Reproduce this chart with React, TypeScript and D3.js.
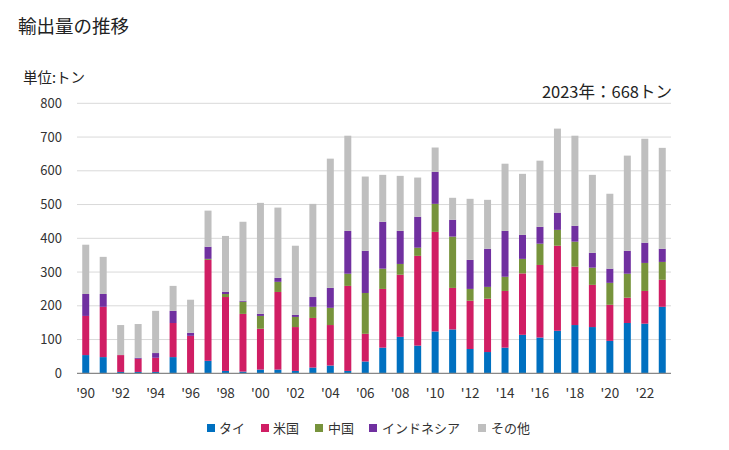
import React from "react";
import * as d3 from "d3";

const years = d3.range(1990, 2024).map((y) => y);
const seriesNames = ["タイ", "米国", "中国", "インドネシア", "その他"];
const colors = ["#0070C0", "#D01E64", "#77933C", "#7030A0", "#BFBFBF"];

const thai = [54, 48, 4, 4, 4, 48, 0, 37, 7, 5, 11, 11, 7, 17, 23, 7, 35, 76, 108, 82, 124, 130, 72, 63, 76, 114, 106, 126, 143, 137, 96, 149, 147, 197];
const usa = [116, 149, 50, 39, 42, 101, 111, 299, 219, 171, 121, 230, 130, 147, 120, 252, 82, 174, 184, 266, 295, 123, 143, 158, 168, 182, 215, 252, 173, 125, 107, 75, 97, 80];
const china = [0, 0, 0, 0, 0, 0, 0, 3, 9, 36, 38, 30, 30, 33, 51, 36, 121, 60, 32, 24, 83, 152, 35, 35, 42, 43, 63, 47, 74, 51, 65, 71, 83, 53];
const indonesia = [65, 38, 0, 3, 14, 36, 9, 36, 6, 3, 6, 12, 6, 29, 59, 127, 125, 139, 98, 92, 95, 50, 86, 113, 136, 71, 50, 51, 47, 44, 42, 68, 60, 39];
const others = [146, 110, 89, 100, 125, 74, 98, 107, 166, 234, 329, 208, 205, 276, 383, 282, 220, 139, 163, 116, 72, 65, 181, 145, 199, 181, 196, 249, 267, 231, 222, 282, 308, 299];
const yTicks = [0, 100, 200, 300, 400, 500, 600, 700, 800];

const FONT = "'Noto Sans CJK JP', 'Noto Sans', sans-serif";

export default function App() {
  const W = 729;
  const H = 450;
  const left = 77;
  const right = 671;
  const top = 103.3;
  const bottom = 373.3;

  const x = d3.scaleBand<number>().domain(years).range([left, right]).paddingInner(0.6).paddingOuter(0.3);
  const y = d3.scaleLinear().domain([0, 800]).range([bottom, top]);

  const rows = years.map((yr, i) => ({
    year: yr,
    s0: thai[i],
    s1: usa[i],
    s2: china[i],
    s3: indonesia[i],
    s4: others[i],
  }));
  const stack = d3.stack<any>().keys(["s0", "s1", "s2", "s3", "s4"]);
  const layers = stack(rows);

  const legendItems = [
    { x: 207, tx: 219 },
    { x: 261, tx: 273 },
    { x: 315, tx: 328 },
    { x: 369, tx: 382 },
    { x: 478, tx: 491 },
  ];

  return (
    <svg width={W} height={H} style={{ position: "absolute", left: 0, top: 0, background: "#fff" }} fontFamily={FONT}>
      <rect x={0} y={0} width={W} height={H} fill="#fff" />
      <text x={18} y={33} fontSize={18.5} fill="#222">輸出量の推移</text>
      <text x={23} y={83} fontSize={14.5} fill="#222">単位:トン</text>
      <text x={672} y={98} fontSize={16.5} fill="#222" textAnchor="end">2023年：668トン</text>

      {yTicks.map((t) => (
        <g key={t}>
          {t > 0 && <line x1={left} x2={right} y1={y(t)} y2={y(t)} stroke="#d9d9d9" strokeWidth={1} />}
          <text x={62} y={y(t) + 4.5} fontSize={13} fill="#333" textAnchor="end">{t}</text>
        </g>
      ))}

      {layers.map((layer, li) => (
        <g key={li} fill={colors[li]}>
          {layer.map((d: any, i: number) => {
            const h = y(d[0]) - y(d[1]);
            if (h <= 0) return null;
            return <rect key={i} x={x(years[i])} y={y(d[1])} width={x.bandwidth()} height={h} />;
          })}
        </g>
      ))}

      <line x1={left} x2={right} y1={bottom} y2={bottom} stroke="#888" strokeWidth={1.2} />

      {years.filter((yr) => yr % 2 === 0).map((yr) => (
        <text key={yr} x={(x(yr) as number) + x.bandwidth() / 2} y={398} fontSize={13.5} fill="#333" textAnchor="middle">
          {"'" + String(yr).slice(2)}
        </text>
      ))}

      {seriesNames.map((name, i) => (
        <g key={name}>
          <rect x={legendItems[i].x} y={424} width={8} height={8} fill={colors[i]} />
          <text x={legendItems[i].tx} y={433} fontSize={13} fill="#333">{name}</text>
        </g>
      ))}
    </svg>
  );
}
